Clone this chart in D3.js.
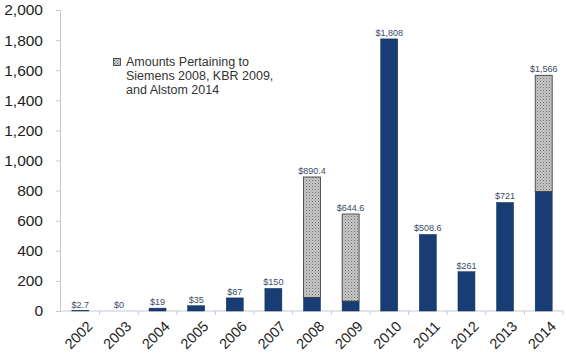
<!DOCTYPE html>
<html><head><meta charset="utf-8">
<script src="https://cdn.jsdelivr.net/npm/d3@7"></script>
<style>body{margin:0;background:#fff;} svg{display:block;}</style>
</head><body>
<svg id="c" width="566" height="355"></svg>
<script>
const years = ["2002","2003","2004","2005","2006","2007","2008","2009","2010","2011","2012","2013","2014"];
const baseValues = [2.7, 0, 19, 35, 87, 150, 90.4, 65.6, 1808, 508.6, 261, 721, 794];
const pertainingValues = [0, 0, 0, 0, 0, 0, 800, 579, 0, 0, 0, 0, 772];
const totalLabels = ["$2.7","$0","$19","$35","$87","$150","$890.4","$644.6","$1,808","$508.6","$261","$721","$1,566"];
const yTicks = [0,200,400,600,800,1000,1200,1400,1600,1800,2000];
const legendLines = ["Amounts Pertaining to","Siemens 2008, KBR 2009,","and Alstom 2014"];

const svg = d3.select("#c");
const defs = svg.append("defs");
const pat = defs.append("pattern").attr("id","dots").attr("width",3).attr("height",3).attr("patternUnits","userSpaceOnUse");
pat.append("rect").attr("width",3).attr("height",3).attr("fill","#c8c8c8");
pat.append("rect").attr("x",0).attr("y",0).attr("width",1).attr("height",1).attr("fill","#6e6e6e");
pat.append("rect").attr("x",1.5).attr("y",1.5).attr("width",1).attr("height",1).attr("fill","#8e8e8e");

const x = d3.scaleBand().domain(years).range([61,563]).paddingInner(0.56).paddingOuter(0.28);
const y = d3.scaleLinear().domain([0,2000]).range([311,10]);
const font = "Liberation Sans, Arial, sans-serif";

// y axis
const yAxis = svg.append("g").attr("transform","translate(60,0)")
  .call(d3.axisLeft(y).tickValues(yTicks).tickSize(4).tickFormat(d3.format(",")));
yAxis.select(".domain").attr("stroke","#c3cad6");
yAxis.selectAll(".tick line").attr("stroke","#c3cad6");
yAxis.selectAll("text").attr("font-family",font).attr("font-size",15.5).attr("fill","#1e1e1e").attr("x",-17);

// x axis line and ticks between categories
const bw = x.step();
svg.append("line").attr("x1",60).attr("x2",563).attr("y1",y(0)).attr("y2",y(0)).attr("stroke","#c3cad6");
svg.selectAll(".xt").data(years).enter().append("line")
  .attr("x1",d=>x(d)+x.bandwidth()/2 + bw/2).attr("x2",d=>x(d)+x.bandwidth()/2 + bw/2)
  .attr("y1",y(0)).attr("y2",y(0)+4).attr("stroke","#c3cad6");

const data = years.map((d,i)=>({year:d, base:baseValues[i], extra:pertainingValues[i], label:totalLabels[i]}));

// base bars
svg.selectAll(".b").data(data).enter().append("rect")
  .attr("x",d=>x(d.year)).attr("width",x.bandwidth())
  .attr("y",d=>y(d.base)).attr("height",d=>y(0)-y(d.base))
  .attr("fill","#183d74").attr("stroke","#0f2a50").attr("stroke-width",0.5);
// extra bars
svg.selectAll(".e").data(data.filter(d=>d.extra>0)).enter().append("rect")
  .attr("x",d=>x(d.year)).attr("width",x.bandwidth())
  .attr("y",d=>y(d.base+d.extra)).attr("height",d=>y(d.base)-y(d.base+d.extra))
  .attr("fill","url(#dots)").attr("stroke","#333").attr("stroke-width",0.8);

// value labels
svg.selectAll(".v").data(data).enter().append("text")
  .attr("x",d=>x(d.year)+x.bandwidth()/2).attr("y",d=>y(d.base+d.extra)-3)
  .attr("text-anchor","middle").attr("font-family",font)
  .attr("font-size",9).attr("fill","#3b4a66").text(d=>d.label);

// year labels
svg.selectAll(".yl").data(years).enter().append("text")
  .attr("transform",d=>`translate(${x(d)+x.bandwidth()/2+6},${y(0)+9}) rotate(-45)`)
  .attr("text-anchor","end").attr("dy","0.7em")
  .attr("font-family",font).attr("font-size",14.5).attr("fill","#1e1e1e").text(d=>d);

// legend
const lg = svg.append("g");
lg.append("rect").attr("x",113.5).attr("y",58.5).attr("width",7).attr("height",7).attr("fill","url(#dots)").attr("stroke","#333").attr("stroke-width",0.8);
lg.selectAll("text").data(legendLines).enter().append("text")
  .attr("x",126).attr("y",(d,i)=>66+i*14.2)
  .attr("font-family",font).attr("font-size",12.5).attr("fill","#333").text(d=>d);
</script>
</body></html>
